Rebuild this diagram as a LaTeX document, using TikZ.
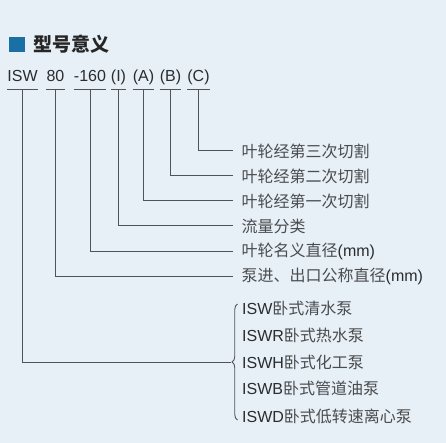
\documentclass[tikz,border=0pt]{standalone}
\usepackage{fontspec}
\setmainfont{Liberation Sans}
\newfontfamily\cjk{Noto Sans CJK SC}
\usetikzlibrary{decorations.pathreplacing}
\definecolor{bgc}{HTML}{E7F0F7}
\definecolor{sqc}{HTML}{1A6FA5}
\definecolor{linec}{HTML}{505457}
\definecolor{txtc}{HTML}{4A4C4E}
\definecolor{latc}{HTML}{2A2C2E}
\tikzset{
  codebox/.style={anchor=base, font=\fontsize{16}{16}\selectfont, text=latc, text depth=0pt, inner ysep=7pt, inner xsep=0pt},
  ubar/.style={draw=linec, line width=1pt},
  conn/.style={draw=linec, line width=1pt},
  desc/.style={anchor=west, inner xsep=8.5pt, font=\fontsize{16}{16}\selectfont\cjk, text=txtc},
  item/.style={anchor=west, inner xsep=0pt, font=\fontsize{16}{16}\selectfont\cjk, text=txtc},
  lat/.style={}
}
\newcommand{\lt}[1]{{\fontspec{Liberation Sans}\color{latc}#1}}
\begin{document}
\begin{tikzpicture}[x=1pt,y=-1pt]
\fill[bgc] (0,0) rectangle (446,443);
\useasboundingbox (0,0) rectangle (446,443);
% title
\fill[sqc] (9,37) rectangle (25,52);
\node[anchor=west, inner sep=0pt, font=\fontsize{19}{19}\selectfont\cjk\bfseries, text=black!85] (title) at (33,44) {型号意义};
% code parts
\node[codebox] (c1) at (22.5,82) {ISW};
\node[codebox] (c2) at (55.5,82) {80};
\node[codebox] (c3) at (90,82) {-160};
\node[codebox] (c4) at (118.5,82) {(I)};
\node[codebox] (c5) at (143.5,82) {(A)};
\node[codebox] (c6) at (170.5,82) {(B)};
\node[codebox] (c7) at (198.5,82) {(C)};
\foreach \n in {c1,c2,c3,c4,c5,c6,c7}{
  \draw[ubar] (\n.south west) -- (\n.south east);
}
% descriptions
\node[desc] (d7) at (233,151) {叶轮经第三次切割};
\node[desc] (d6) at (233,176) {叶轮经第二次切割};
\node[desc] (d5) at (233,201) {叶轮经第一次切割};
\node[desc] (d4) at (233,226) {流量分类};
\node[desc] (d3) at (233,251) {叶轮名义直径\lt{(mm)}};
\node[desc] (d2) at (233,276) {泵进、出口公称直径\lt{(mm)}};
% connectors
\draw[conn] (c7.south) |- (d7.west);
\draw[conn] (c6.south) |- (d6.west);
\draw[conn] (c5.south) |- (d5.west);
\draw[conn] (c4.south) |- (d4.west);
\draw[conn] (c3.south) |- (d3.west);
\draw[conn] (c2.south) |- (d2.west);
% brace
\coordinate (bbot) at (237.5,420);
\coordinate (btop) at (237.5,304);
\coordinate (btip) at (231,362);
\draw[conn, line width=0.9pt, decorate, decoration={brace, amplitude=5.5pt, aspect=0.5}] (bbot) -- (btop);
\draw[conn] (c1.south) |- (btip);
% items
\node[item] (i1) at (242,308) {\lt{ISW}卧式清水泵};
\node[item] (i2) at (242,335) {\lt{ISWR}卧式热水泵};
\node[item] (i3) at (242,362) {\lt{ISWH}卧式化工泵};
\node[item] (i4) at (242,388) {\lt{ISWB}卧式管道油泵};
\node[item] (i5) at (242,416) {\lt{ISWD}卧式低转速离心泵};
\end{tikzpicture}
\end{document}
